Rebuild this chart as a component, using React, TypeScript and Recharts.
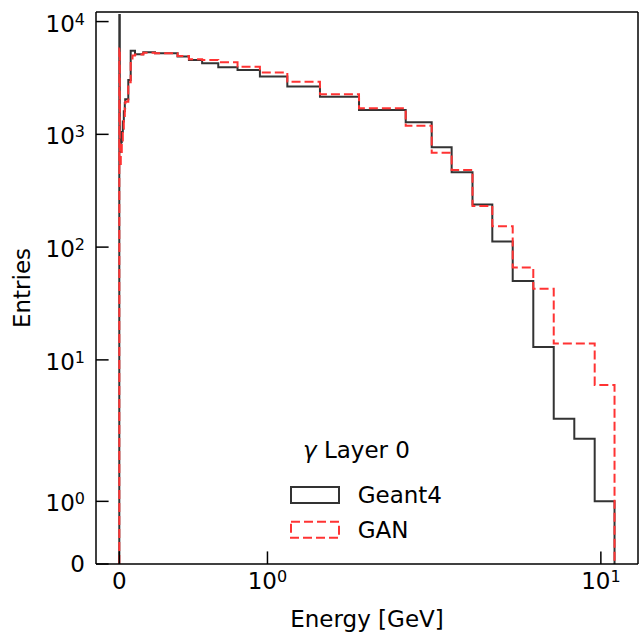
import React from "react";
import {
  LineChart,
  Line,
  XAxis,
  YAxis,
  Legend,
  ReferenceLine,
} from "recharts";

// bin edges in GeV (shared by both histograms)
const binEdges = [
  0, 0.0034, 0.0101, 0.0168, 0.0236, 0.0304, 0.0371, 0.0398, 0.0607, 0.0769,
  0.0891, 0.1059, 0.1619, 0.2409, 0.393, 0.47, 0.559, 0.668, 0.798, 0.949,
  1.147, 1.437, 1.882, 2.598, 3.109, 3.568, 4.121, 4.725, 5.44, 6.271, 7.222,
  8.324, 9.583, 10.99,
];

const geant4Counts = [
  11450, 700, 850, 1050, 1300, 1600, 1900, 2050, 3040, 5500, 5500, 5130, 5350,
  5230, 4900, 4570, 4270, 3930, 3720, 3250, 2650, 2160, 1645, 1280, 768, 462,
  239, 112, 50, 13, 3, 2, 1,
];

const ganCounts = [
  5810, 520, 680, 880, 1120, 1400, 1700, 1950, 2900, 4300, 5000, 5100, 5300,
  5250, 4960, 4640, 4570, 4360, 3980, 3540, 2930, 2265, 1700, 1190, 688, 482,
  232, 153, 66, 42.8, 14, 14, 6,
];

const xTickValues = [0, 1, 10];
const xTickLabels = ["0", "10^0", "10^1"];
const yTickValues = [0, 1, 10, 100, 1000, 10000];
const yTickLabels = ["0", "10^0", "10^1", "10^2", "10^3", "10^4"];

// symlog-style transforms (linear below threshold, log above)
const X_LIN = 0.4444;
const toX = (e: number) => (e <= 1 ? e * X_LIN : X_LIN + Math.log10(e));
const Y_THRESH = 2;
const Y_LIN = 1 / 0.9;
const toY = (v: number) =>
  v <= Y_THRESH ? (v / Y_THRESH) * Y_LIN : Y_LIN + Math.log10(v / Y_THRESH);

const X_MIN = -0.0699;
const X_MAX = 1.5558;
const Y_MAX = 4.895;

const stepPoints = (edges: number[], counts: number[]) => {
  const n = counts.length;
  const pts = [{ x: toX(edges[0]), y: toY(0) }];
  for (let i = 0; i < n; i++) pts.push({ x: toX(edges[i]), y: toY(counts[i]) });
  pts.push({ x: toX(edges[n]), y: toY(counts[n - 1]) });
  pts.push({ x: toX(edges[n]), y: toY(0) });
  return pts;
};

const geant4Data = stepPoints(binEdges, geant4Counts);
const ganData = stepPoints(binEdges, ganCounts);

const FONT = 23;
const SUP = 16;
const TICK_LEN = 12.6;

const TickText = ({ label, x, y, anchor }: any) => {
  const [base, exp] = label.split("^");
  return (
    <text x={x} y={y} textAnchor={anchor} fontSize={FONT} fill="#000">
      {base}
      {exp !== undefined && (
        <tspan fontSize={SUP} dy={-7}>
          {exp}
        </tspan>
      )}
    </text>
  );
};

const XTick = (props: any) => {
  const { x, y, payload } = props;
  const idx = xTickValues.findIndex((v) => Math.abs(toX(v) - payload.value) < 1e-6);
  const label = xTickLabels[idx] ?? "";
  return (
    <g>
      <line x1={x} y1={y} x2={x} y2={y - TICK_LEN} stroke="#000" strokeWidth={1.5} />
      <TickText label={label} x={x} y={y + 25.3} anchor="middle" />
    </g>
  );
};

const YTick = (props: any) => {
  const { x, y, payload } = props;
  const idx = yTickValues.findIndex((v) => Math.abs(toY(v) - payload.value) < 1e-6);
  const label = yTickLabels[idx] ?? "";
  const hasExp = label.includes("^");
  return (
    <g>
      <line x1={x} y1={y} x2={x + TICK_LEN} y2={y} stroke="#000" strokeWidth={1.5} />
      <TickText label={label} x={x - 11} y={y + (hasExp ? 10 : 8)} anchor="end" />
    </g>
  );
};

const series = [
  { name: "Geant4", color: "#333333", dash: undefined },
  { name: "GAN", color: "#ff3333", dash: "9 4" },
];

const LegendBox = () => (
  <svg width={200} height={120}>
    <text x={23} y={27.7} fontSize={FONT} fill="#000">
      <tspan fontStyle="italic">γ</tspan> Layer 0
    </text>
    {series.map((s, i) => (
      <g key={s.name}>
        <rect
          x={11}
          y={57 + i * 34.7}
          width={48}
          height={16}
          fill="none"
          stroke={s.color}
          strokeWidth={2}
          strokeDasharray={s.dash}
        />
        <text x={77.7} y={73.3 + i * 34.4} fontSize={FONT} fill="#000">
          {s.name}
        </text>
      </g>
    ))}
  </svg>
);

export default function App() {
  return (
    <div
      style={{
        position: "absolute",
        left: 0,
        top: 0,
        width: 639,
        height: 638,
        background: "#fff",
        fontFamily: "DejaVu Sans",
      }}
    >
      <LineChart
        width={639}
        height={638}
        margin={{ top: 12, right: 1, bottom: 0, left: 0 }}
      >
        <XAxis
          type="number"
          dataKey="x"
          domain={[X_MIN, X_MAX]}
          allowDataOverflow
          ticks={xTickValues.map(toX)}
          interval={0}
          tick={<XTick />}
          tickLine={false}
          tickSize={0}
          tickMargin={0}
          height={74}
          axisLine={{ stroke: "#000", strokeWidth: 1.5 }}
          label={{
            value: "Energy [GeV]",
            position: "insideBottom",
            offset: 11,
            fontSize: FONT,
            fill: "#000",
          }}
        />
        <YAxis
          type="number"
          dataKey="y"
          domain={[0, Y_MAX]}
          allowDataOverflow
          ticks={yTickValues.map(toY)}
          interval={0}
          tick={<YTick />}
          tickLine={false}
          tickSize={0}
          tickMargin={0}
          width={96}
          axisLine={{ stroke: "#000", strokeWidth: 1.5 }}
          label={{
            content: (p: any) => {
              const vb = p.viewBox || {};
              const cy = (vb.y ?? 12) + (vb.height ?? 552) / 2;
              return (
                <text
                  x={30}
                  y={cy}
                  transform={`rotate(-90 30 ${cy})`}
                  textAnchor="middle"
                  fontSize={FONT}
                  fill="#000"
                >
                  Entries
                </text>
              );
            },
          }}
        />
        <ReferenceLine y={Y_MAX} stroke="#000" strokeWidth={1.5} />
        <ReferenceLine x={X_MAX} stroke="#000" strokeWidth={1.5} />
        <Line
          data={geant4Data}
          dataKey="y"
          name="Geant4"
          type="stepAfter"
          stroke="#333333"
          strokeWidth={2}
          dot={false}
          isAnimationActive={false}
        />
        <Line
          data={ganData}
          dataKey="y"
          name="GAN"
          type="stepAfter"
          stroke="#ff3333"
          strokeWidth={2}
          strokeDasharray="9 4"
          dot={false}
          isAnimationActive={false}
        />
        <Legend
          layout="vertical"
          verticalAlign="middle"
          align="center"
          content={<LegendBox />}
          wrapperStyle={{ position: "absolute", left: 280, top: 430, width: 200, height: 120 }}
        />
      </LineChart>
    </div>
  );
}
